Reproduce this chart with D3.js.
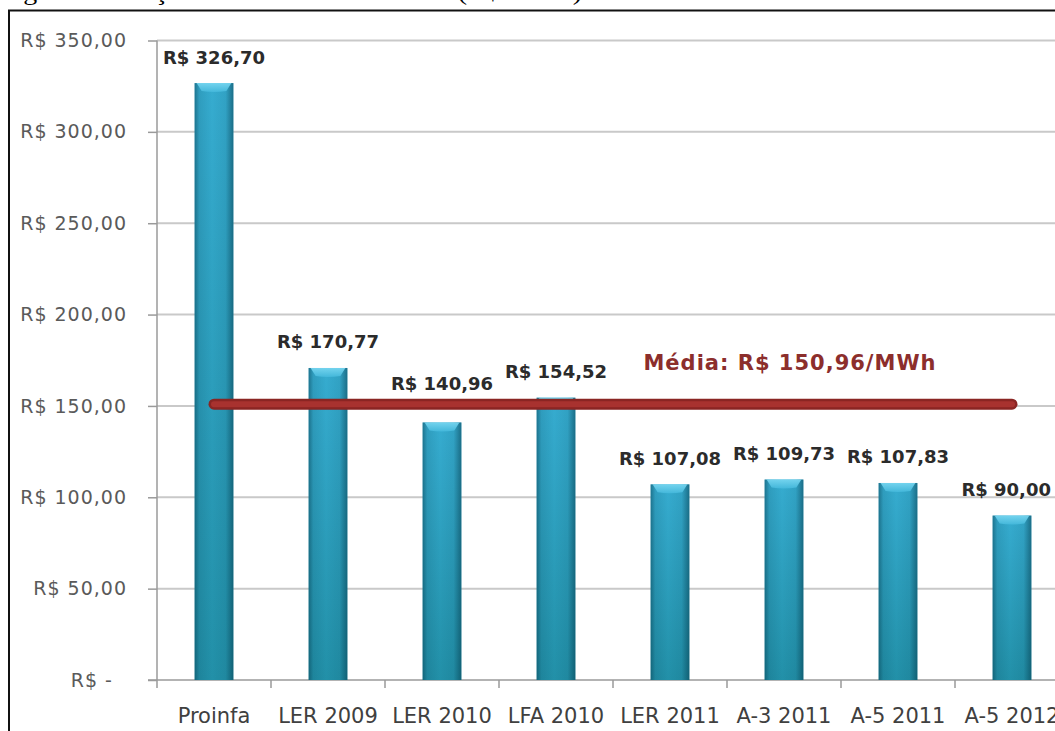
<!DOCTYPE html>
<html><head><meta charset="utf-8">
<script src="https://cdn.jsdelivr.net/npm/d3@7"></script>
<style>body{margin:0;background:#fff}svg{display:block}text{white-space:pre}</style>
</head><body>
<svg id="c" width="1055" height="731"></svg>
<script>
const categories = ["Proinfa","LER 2009","LER 2010","LFA 2010","LER 2011","A-3 2011","A-5 2011","A-5 2012"];
const prices = [326.70, 170.77, 140.96, 154.52, 107.08, 109.73, 107.83, 90.00];
const priceLabels = ["R$ 326,70","R$ 170,77","R$ 140,96","R$ 154,52","R$ 107,08","R$ 109,73","R$ 107,83","R$ 90,00"];
const yTicks = [0, 50, 100, 150, 200, 250, 300, 350];
const yTickLabels = ["R$ -  ","R$ 50,00","R$ 100,00","R$ 150,00","R$ 200,00","R$ 250,00","R$ 300,00","R$ 350,00"];
const meanValue = 150.96;
const meanLabel = "Média: R$ 150,96/MWh";
const caption = "Figura 3 - Preços médios da fonte eólica (R$/MWh)";
const labelNudge = {"LER 2010": 13};

const W = 1055;
const svg = d3.select("#c");
const defs = svg.append("defs");
const x = d3.scaleBand().domain(categories).range([157, 157 + 8*114]).paddingInner(0.66).paddingOuter(0.33);
const y = d3.scaleLinear().domain([0, 350]).range([680, 40.5]);

// gradients
const gv = defs.append("linearGradient").attr("id","gv").attr("x1",0).attr("y1",0).attr("x2",0).attr("y2",1);
gv.append("stop").attr("offset","0%").attr("stop-color","#36acd0");
gv.append("stop").attr("offset","100%").attr("stop-color","#2290a8");
const gh = defs.append("linearGradient").attr("id","gh").attr("x1",0).attr("y1",0).attr("x2",1).attr("y2",0);
[[0,0.45],[0.12,0.12],[0.45,0],[0.8,0.08],[1,0.5]].forEach(([o,a])=>gh.append("stop").attr("offset",o).attr("stop-color","#003040").attr("stop-opacity",a));
const gc = defs.append("linearGradient").attr("id","gc").attr("x1",0).attr("y1",0).attr("x2",0).attr("y2",1);
gc.append("stop").attr("offset","0%").attr("stop-color","#7ad8f2");
gc.append("stop").attr("offset","100%").attr("stop-color","#45b9dc");

// caption (clipped at top)
svg.append("text").attr("x", 0).attr("y", 0).attr("font-family","Liberation Serif, serif").attr("font-size", 24)
  .attr("fill","#000").attr("textLength", 582).attr("lengthAdjust","spacingAndGlyphs").text(caption);

// frame
svg.append("path").attr("d","M9,731 V10.5 H1055").attr("fill","none").attr("stroke","#111").attr("stroke-width",2);

// gridlines
svg.append("g").selectAll("line").data(yTicks.filter(d=>d>0)).join("line")
  .attr("x1",157).attr("x2",W).attr("y1",d=>y(d)).attr("y2",d=>y(d))
  .attr("stroke","#c9c9c9").attr("stroke-width",2);

// y axis
const yAxis = d3.axisLeft(y).tickValues(yTicks).tickSize(9).tickFormat((d,i)=>yTickLabels[i]);
const gy = svg.append("g").attr("transform","translate(157,0)").call(yAxis);
gy.select(".domain").attr("stroke","#9a9a9a").attr("stroke-width",1.5).attr("d","M-0,40.5V680");
gy.selectAll(".tick line").attr("stroke","#9a9a9a").attr("stroke-width",1.5);
gy.selectAll(".tick text").attr("x",-30).attr("font-family","DejaVu Sans, sans-serif").attr("font-size",19)
  .attr("letter-spacing",1).attr("fill","#5a5a5a");

// x axis
const step = x.step(), x0 = x.range()[0];
svg.append("line").attr("x1",148).attr("x2",W).attr("y1",y(0)).attr("y2",y(0)).attr("stroke","#9a9a9a").attr("stroke-width",1.5);
svg.append("g").selectAll("line").data(d3.range(categories.length+1)).join("line")
  .attr("x1",i=>x0+i*step).attr("x2",i=>x0+i*step).attr("y1",y(0)).attr("y2",y(0)+8)
  .attr("stroke","#9a9a9a").attr("stroke-width",1.5);
svg.append("g").selectAll("text").data(categories).join("text")
  .attr("x",d=>x(d)+x.bandwidth()/2).attr("y",723).attr("text-anchor","middle")
  .attr("font-family","DejaVu Sans, sans-serif").attr("font-size",21).attr("fill","#404040").text(d=>d);

// bars
const bars = svg.append("g").selectAll("g").data(categories).join("g");
bars.append("rect").attr("x",d=>x(d)).attr("width",x.bandwidth())
  .attr("y",(d,i)=>y(prices[i])).attr("height",(d,i)=>y(0)-y(prices[i])).attr("fill","url(#gv)");
bars.append("rect").attr("x",d=>x(d)).attr("width",x.bandwidth())
  .attr("y",(d,i)=>y(prices[i])).attr("height",(d,i)=>y(0)-y(prices[i])).attr("fill","url(#gh)");
bars.append("path").attr("d",(d,i)=>{
  const l = x(d), r = l + x.bandwidth(), t = y(prices[i]);
  return `M${l+2},${t} H${r-2} L${r-7},${t+8} Q${(l+r)/2},${t+10} ${l+7},${t+8} Z`;
}).attr("fill","url(#gc)").attr("opacity",0.9);

// mean line
const mx1 = x(categories[0]) + x.bandwidth()/2, mx2 = x(categories[categories.length-1]) + x.bandwidth()/2;
svg.append("line").attr("x1",mx1).attr("x2",mx2).attr("y1",y(meanValue)).attr("y2",y(meanValue))
  .attr("stroke","#8a2523").attr("stroke-width",11).attr("stroke-linecap","round");
svg.append("line").attr("x1",mx1).attr("x2",mx2).attr("y1",y(meanValue)).attr("y2",y(meanValue))
  .attr("stroke","#a8322f").attr("stroke-width",6).attr("stroke-linecap","round");
svg.append("text").attr("x",790).attr("y",370).attr("text-anchor","middle")
  .attr("font-family","DejaVu Sans, sans-serif").attr("font-weight","bold").attr("font-size",21)
  .attr("letter-spacing",1).attr("fill","#8c2e2c").text(meanLabel);

// value labels (kept inside the right edge)
svg.append("g").selectAll("text").data(categories).join("text")
  .attr("x",d=>x(d)+x.bandwidth()/2).attr("y",(d,i)=>y(prices[i]) - 19.5 - (labelNudge[d]||0))
  .attr("text-anchor","middle").attr("font-family","DejaVu Sans, sans-serif").attr("font-weight","bold")
  .attr("font-size",18).attr("fill","#2b2b2b").text((d,i)=>priceLabels[i])
  .each(function(){
    const b = this.getBBox();
    const over = b.x + b.width - (W - 4);
    if (over > 0) d3.select(this).attr("x", +d3.select(this).attr("x") - over);
  });
</script>
</body></html>
